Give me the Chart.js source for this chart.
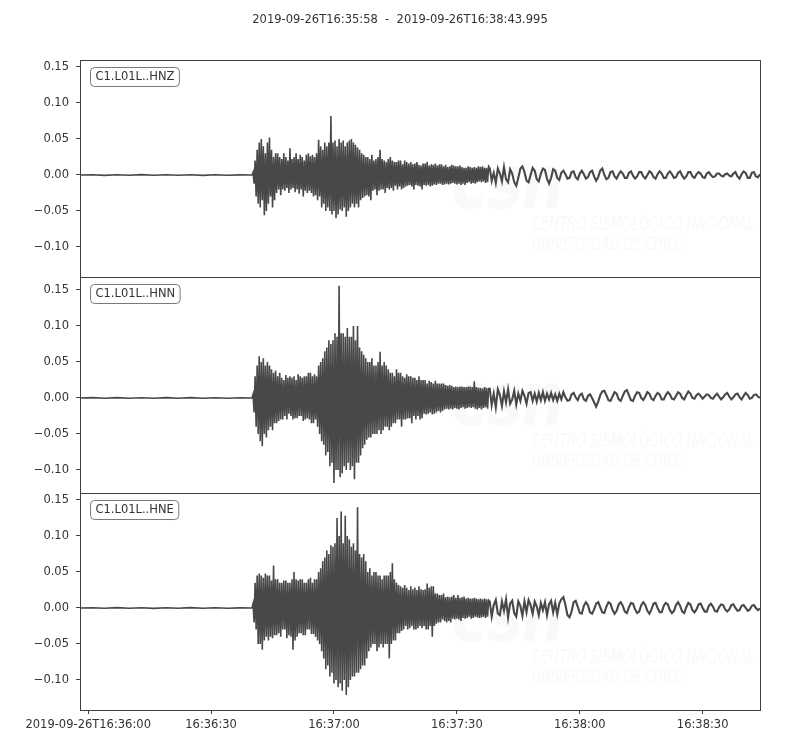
<!DOCTYPE html>
<html>
<head>
<meta charset="utf-8">
<title>Sismograma C1.L01L</title>
<script src="https://cdn.jsdelivr.net/npm/chart.js@4/dist/chart.umd.min.js"></script>
<style>
  body { margin: 0; background: #fff; }
  #wrap { position: relative; width: 800px; height: 750px; }
  #wrap canvas { position: absolute; left: 0; top: 0; }
</style>
</head>
<body>
<div id="wrap">
  <canvas id="c0" width="800" height="750"></canvas>
  <canvas id="c1" width="800" height="750"></canvas>
  <canvas id="c2" width="800" height="750"></canvas>
</div>
<script>
// === Dados ===
const titulo = "2019-09-26T16:35:58  -  2019-09-26T16:38:43.995";
const estacoes = ["C1.L01L..HNZ", "C1.L01L..HNN", "C1.L01L..HNE"];

// eixo x em segundos desde 16:35:58
const xTickSecs = [2, 32, 62, 92, 122, 152];
const xTickLabels = ["2019-09-26T16:36:00", "16:36:30", "16:37:00", "16:37:30", "16:38:00", "16:38:30"];
const yTicks = [-0.10, -0.05, 0.00, 0.05, 0.10, 0.15];

// passos (s) de cada trecho: pré-evento (0-42 s), fase forte (42-100 s), coda (100-166 s)
const passoPre = 3;
const passoForte = 0.25;
const passoCoda = 0.5;
const inicioCoda = 100;

// HNZ
const hnzPre = [0, 0.0004, -0.0005, 0.0003, -0.0004, 0.0005, -0.0003, 0.0004, -0.0004, 0.0003, -0.0005, 0.0004, -0.0003, 0.0002];
const hnzForte = [
  0.000, 0.004, -0.012, 0.020, -0.030, 0.035, -0.040, 0.045,
  -0.045, 0.050, -0.035, 0.040, -0.056, 0.030, -0.050, 0.045,
  -0.040, 0.052, -0.030, 0.035, -0.045, 0.025, -0.035, 0.030,
  -0.025, 0.030, -0.020, 0.025, -0.028, 0.022, -0.020, 0.030,
  -0.022, 0.025, -0.018, 0.020, -0.025, 0.037, -0.020, 0.022,
  -0.018, 0.025, -0.024, 0.030, -0.020, 0.022, -0.026, 0.028,
  -0.020, 0.025, -0.030, 0.020, -0.022, 0.028, -0.025, 0.030,
  -0.022, 0.026, -0.025, 0.028, -0.030, 0.025, -0.028, 0.030,
  -0.035, 0.049, -0.030, 0.040, -0.045, 0.035, -0.040, 0.045,
  -0.050, 0.040, -0.045, 0.045, -0.050, 0.082, -0.055, 0.045,
  -0.050, 0.048, -0.060, 0.040, -0.055, 0.050, -0.048, 0.045,
  -0.050, 0.048, -0.045, 0.040, -0.058, 0.045, -0.050, 0.048,
  -0.045, 0.050, -0.040, 0.045, -0.045, 0.042, -0.040, 0.038,
  -0.045, 0.035, -0.035, 0.030, -0.032, 0.028, -0.030, 0.025,
  -0.028, 0.025, -0.030, 0.022, -0.035, 0.028, -0.022, 0.020,
  -0.020, 0.022, -0.028, 0.025, -0.022, 0.035, -0.020, 0.022,
  -0.020, 0.020, -0.025, 0.018, -0.018, 0.022, -0.020, 0.025,
  -0.018, 0.020, -0.022, 0.018, -0.015, 0.018, -0.020, 0.020,
  -0.016, 0.020, -0.020, 0.015, -0.018, 0.020, -0.016, 0.018,
  -0.015, 0.016, -0.014, 0.018, -0.016, 0.015, -0.020, 0.016,
  -0.014, 0.018, -0.015, 0.014, -0.016, 0.013, -0.020, 0.016,
  -0.014, 0.016, -0.015, 0.018, -0.014, 0.013, -0.016, 0.015,
  -0.015, 0.014, -0.013, 0.016, -0.014, 0.013, -0.012, 0.015,
  -0.012, 0.015, -0.014, 0.012, -0.013, 0.014, -0.012, 0.011,
  -0.013, 0.012, -0.012, 0.014, -0.011, 0.013, -0.012, 0.012,
  -0.013, 0.012, -0.012, 0.013, -0.014, 0.011, -0.012, 0.010,
  -0.014, 0.010, -0.011, 0.012, -0.010, 0.011, -0.012, 0.010,
  -0.011, 0.011, -0.012, 0.010, -0.010, 0.012, -0.009, 0.011,
  -0.010, 0.012, -0.009, 0.010, -0.011, 0.010, -0.010, 0.012
];
const hnzCoda = [
  0.010, -0.008, 0.003, -0.011, 0.009, 0.002, -0.009, 0.011, -0.006, -0.010,
  0.008, 0.002, -0.010, -0.015, -0.004, 0.009, 0.012, 0.004, -0.008, -0.010,
  0.000, 0.010, 0.006, -0.006, -0.009, 0.002, 0.009, 0.007, -0.005, -0.012,
  -0.004, 0.008, 0.006, -0.004, -0.007, 0.003, 0.006, 0.001, -0.005, -0.004,
  0.004, 0.005, -0.003, -0.006, 0.002, 0.006, 0.001, -0.005, -0.003, 0.004,
  0.006, -0.002, -0.008, -0.003, 0.006, 0.009, 0.000, -0.006, -0.004, 0.004,
  0.005, -0.002, -0.005, 0.001, 0.005, 0.002, -0.004, -0.004, 0.003, 0.005,
  -0.001, -0.005, -0.002, 0.004, 0.004, -0.002, -0.005, 0.000, 0.005, 0.003,
  -0.003, -0.005, 0.001, 0.005, 0.002, -0.004, -0.004, 0.002, 0.005, 0.001,
  -0.004, -0.003, 0.003, 0.005, -0.001, -0.005, -0.002, 0.004, 0.004, -0.002,
  -0.004, 0.001, 0.004, 0.002, -0.003, -0.004, 0.002, 0.004, 0.000, -0.003,
  -0.002, 0.002, 0.002, -0.001, -0.002, 0.001, 0.002, -0.001, -0.002, 0.002,
  0.004, -0.002, -0.005, 0.001, 0.005, 0.003, -0.004, -0.004, 0.003, 0.004,
  -0.002, -0.003, 0.001
];

// HNN
const hnnPre = [0, 0.0005, -0.0004, 0.0004, -0.0005, 0.0003, -0.0004, 0.0005, -0.0003, 0.0004, -0.0004, 0.0003, -0.0005, 0.0002];
const hnnForte = [
  0.000, 0.005, -0.020, 0.030, -0.040, 0.045, -0.050, 0.058,
  -0.060, 0.050, -0.067, 0.055, -0.050, 0.045, -0.055, 0.050,
  -0.045, 0.045, -0.040, 0.040, -0.045, 0.035, -0.035, 0.038,
  -0.035, 0.030, -0.032, 0.035, -0.030, 0.028, -0.030, 0.025,
  -0.025, 0.032, -0.030, 0.028, -0.022, 0.030, -0.025, 0.028,
  -0.030, 0.030, -0.028, 0.025, -0.028, 0.033, -0.025, 0.030,
  -0.025, 0.028, -0.032, 0.030, -0.030, 0.030, -0.028, 0.035,
  -0.030, 0.035, -0.035, 0.030, -0.035, 0.033, -0.030, 0.030,
  -0.040, 0.045, -0.050, 0.050, -0.060, 0.055, -0.065, 0.065,
  -0.080, 0.070, -0.075, 0.080, -0.095, 0.075, -0.090, 0.080,
  -0.118, 0.090, -0.100, 0.085, -0.100, 0.156, -0.110, 0.090,
  -0.105, 0.090, -0.095, 0.085, -0.100, 0.097, -0.090, 0.085,
  -0.100, 0.085, -0.095, 0.100, -0.113, 0.080, -0.090, 0.100,
  -0.090, 0.070, -0.080, 0.065, -0.070, 0.060, -0.065, 0.055,
  -0.058, 0.050, -0.055, 0.050, -0.055, 0.055, -0.050, 0.045,
  -0.050, 0.045, -0.050, 0.050, -0.045, 0.064, -0.050, 0.045,
  -0.045, 0.050, -0.040, 0.045, -0.040, 0.040, -0.045, 0.035,
  -0.040, 0.035, -0.035, 0.030, -0.035, 0.040, -0.030, 0.035,
  -0.030, 0.035, -0.040, 0.030, -0.030, 0.028, -0.030, 0.033,
  -0.028, 0.030, -0.028, 0.030, -0.035, 0.028, -0.025, 0.028,
  -0.030, 0.025, -0.025, 0.030, -0.030, 0.025, -0.028, 0.025,
  -0.022, 0.025, -0.023, 0.020, -0.022, 0.024, -0.020, 0.022,
  -0.023, 0.020, -0.022, 0.024, -0.020, 0.020, -0.018, 0.020,
  -0.020, 0.020, -0.018, 0.020, -0.016, 0.018, -0.015, 0.017,
  -0.016, 0.018, -0.015, 0.017, -0.016, 0.015, -0.014, 0.016,
  -0.015, 0.015, -0.016, 0.016, -0.014, 0.016, -0.013, 0.015,
  -0.015, 0.015, -0.014, 0.016, -0.013, 0.016, -0.014, 0.015,
  -0.013, 0.023, -0.015, 0.015, -0.016, 0.014, -0.014, 0.014,
  -0.016, 0.013, -0.014, 0.015, -0.013, 0.014, -0.015, 0.013
];
const hnnCoda = [
  0.014, -0.010, 0.006, -0.013, 0.012, 0.004, -0.011, 0.009, -0.006, 0.012,
  -0.008, -0.002, 0.010, -0.009, 0.006, -0.004, 0.010, 0.003, -0.008, 0.007,
  0.008, -0.004, 0.006, -0.005, 0.007, -0.003, 0.008, -0.004, 0.006, -0.002,
  0.007, -0.003, 0.005, -0.004, 0.006, -0.002, 0.008, 0.001, -0.004, -0.003,
  0.005, 0.007, 0.001, -0.003, 0.004, 0.006, -0.002, -0.004, 0.003, 0.005,
  0.000, -0.006, -0.012, -0.005, 0.004, 0.009, 0.010, 0.004, -0.003, -0.004,
  0.002, 0.008, 0.006, -0.002, -0.004, 0.003, 0.009, 0.011, 0.004, -0.003,
  -0.004, 0.003, 0.008, 0.007, 0.000, -0.003, 0.002, 0.008, 0.006, -0.001,
  -0.003, 0.003, 0.007, 0.005, -0.002, -0.002, 0.004, 0.008, 0.005, -0.001,
  -0.002, 0.003, 0.008, 0.006, 0.000, -0.002, 0.004, 0.009, 0.006, 0.000,
  -0.001, 0.004, 0.006, 0.003, -0.001, 0.002, 0.005, 0.004, 0.000, -0.001,
  0.003, 0.006, 0.002, -0.002, 0.001, 0.005, 0.007, 0.002, -0.002, 0.001,
  0.005, 0.006, 0.001, -0.002, 0.003, 0.007, 0.004, -0.001, 0.000, 0.004,
  0.005, 0.002, 0.000
];

// HNE
const hnePre = [0, 0.0003, -0.0004, 0.0005, -0.0003, 0.0004, -0.0005, 0.0003, -0.0004, 0.0005, -0.0003, 0.0004, -0.0004, 0.0002];
const hneForte = [
  0.000, 0.006, -0.020, 0.035, -0.030, 0.045, -0.050, 0.048,
  -0.050, 0.045, -0.058, 0.042, -0.045, 0.048, -0.040, 0.045,
  -0.045, 0.045, -0.040, 0.038, -0.042, 0.059, -0.038, 0.040,
  -0.038, 0.040, -0.035, 0.035, -0.040, 0.035, -0.030, 0.038,
  -0.030, 0.038, -0.042, 0.035, -0.038, 0.035, -0.040, 0.040,
  -0.058, 0.050, -0.045, 0.040, -0.040, 0.038, -0.035, 0.040,
  -0.035, 0.040, -0.038, 0.035, -0.038, 0.035, -0.030, 0.040,
  -0.030, 0.042, -0.036, 0.035, -0.036, 0.040, -0.040, 0.040,
  -0.045, 0.050, -0.050, 0.055, -0.060, 0.065, -0.070, 0.070,
  -0.085, 0.080, -0.080, 0.075, -0.095, 0.087, -0.090, 0.085,
  -0.105, 0.090, -0.100, 0.125, -0.110, 0.100, -0.105, 0.134,
  -0.115, 0.090, -0.100, 0.128, -0.121, 0.100, -0.110, 0.095,
  -0.100, 0.085, -0.095, 0.090, -0.095, 0.080, -0.090, 0.140,
  -0.090, 0.075, -0.085, 0.070, -0.080, 0.075, -0.080, 0.065,
  -0.070, 0.050, -0.060, 0.055, -0.055, 0.045, -0.050, 0.050,
  -0.050, 0.050, -0.060, 0.045, -0.055, 0.045, -0.050, 0.040,
  -0.055, 0.045, -0.050, 0.045, -0.050, 0.045, -0.070, 0.050,
  -0.050, 0.062, -0.045, 0.040, -0.045, 0.035, -0.035, 0.032,
  -0.035, 0.030, -0.032, 0.028, -0.030, 0.032, -0.025, 0.028,
  -0.030, 0.025, -0.028, 0.030, -0.025, 0.026, -0.030, 0.028,
  -0.030, 0.025, -0.028, 0.030, -0.025, 0.026, -0.028, 0.025,
  -0.025, 0.026, -0.030, 0.034, -0.030, 0.028, -0.025, 0.030,
  -0.040, 0.030, -0.025, 0.020, -0.022, 0.020, -0.020, 0.018,
  -0.020, 0.018, -0.016, 0.020, -0.018, 0.015, -0.020, 0.016,
  -0.018, 0.015, -0.020, 0.016, -0.015, 0.018, -0.016, 0.014,
  -0.015, 0.018, -0.016, 0.014, -0.018, 0.015, -0.014, 0.016,
  -0.015, 0.013, -0.014, 0.014, -0.012, 0.013, -0.015, 0.013,
  -0.014, 0.014, -0.012, 0.013, -0.013, 0.012, -0.014, 0.013,
  -0.013, 0.012, -0.012, 0.013, -0.014, 0.012, -0.012, 0.011
];
const hneCoda = [
  0.010, -0.012, 0.004, 0.011, -0.008, -0.010, 0.009, -0.004, 0.012, -0.013,
  0.006, 0.010, -0.007, -0.012, 0.009, 0.003, -0.011, 0.009, -0.006, 0.011,
  0.004, -0.008, 0.009, 0.002, -0.010, 0.007, -0.003, 0.008, -0.010, 0.005,
  0.010, -0.006, 0.007, -0.009, 0.006, 0.012, 0.015, 0.004, -0.010, -0.013,
  -0.005, 0.008, 0.010, 0.002, -0.007, -0.008, 0.003, 0.008, 0.004, -0.006,
  -0.008, -0.002, 0.006, 0.008, 0.001, -0.006, -0.007, 0.002, 0.008, 0.006,
  -0.003, -0.008, -0.004, 0.005, 0.008, 0.003, -0.005, -0.007, 0.001, 0.007,
  0.006, -0.002, -0.007, -0.005, 0.004, 0.008, 0.004, -0.004, -0.008, -0.002,
  0.006, 0.007, 0.000, -0.006, -0.006, 0.003, 0.007, 0.005, -0.003, -0.007,
  -0.004, 0.004, 0.008, 0.003, -0.005, -0.007, 0.001, 0.007, 0.005, -0.003,
  -0.006, -0.002, 0.005, 0.006, 0.000, -0.005, -0.005, 0.003, 0.006, 0.002,
  -0.004, -0.005, 0.001, 0.005, 0.004, -0.002, -0.005, -0.002, 0.004, 0.005,
  0.000, -0.004, -0.003, 0.003, 0.004, 0.000, -0.004, -0.002, 0.003, 0.004,
  0.000, -0.003, -0.001
];

// === Layout dos painéis (pixels) ===
const paineis = [
  { top: 60,  bottom: 277, ymin: -0.1417, ymax: 0.1597 },
  { top: 277, bottom: 493, ymin: -0.1320, ymax: 0.1680 },
  { top: 493, bottom: 710, ymin: -0.1417, ymax: 0.1597 }
];
const X_MAX = 165.995;
const corLinha = "#484848";
const corEixo = "#404040";
const fonte = "DejaVu Sans";

// Junta os três trechos numa série {x, y}
function montaTraco(pre, forte, coda) {
    const pts = [];
    let t = 0;
    pre.forEach((v) => { pts.push({ x: t, y: v }); t += passoPre; });
    forte.forEach((v) => { pts.push({ x: t, y: v }); t += passoForte; });
    coda.forEach((v) => { pts.push({ x: t, y: v }); t += passoCoda; });
    return pts;
}

const tracos = [
    montaTraco(hnzPre, hnzForte, hnzCoda),
    montaTraco(hnnPre, hnnForte, hnnCoda),
    montaTraco(hnePre, hneForte, hneCoda)
];

function fmtY(v) {
    const s = Math.abs(v) < 1e-9 ? "0.00" : v.toFixed(2);
    return s.replace("-", "\u2212");
}

// Moldura, marca d'água, rótulo da estação e título
const molduraPlugin = {
    id: "moldura",
    beforeDatasetsDraw(chart) {
        const ca = chart.chartArea;
        const ctx = chart.ctx;
        ctx.save();
        ctx.fillStyle = "#f9f9f9";
        ctx.textBaseline = "alphabetic";
        ctx.textAlign = "left";
        ctx.font = `italic bold 74px ${fonte}`;
        ctx.fillText("csn", 452, ca.top + 148, 112);
        ctx.font = `italic 20px ${fonte}`;
        ctx.fillText("CENTRO SISMOLÓGICO NACIONAL", 532, ca.top + 170, 222);
        ctx.fillText("UNIVERSIDAD DE CHILE", 532, ca.top + 190, 150);
        ctx.restore();
    },
    afterDraw(chart, args, opts) {
        const ca = chart.chartArea;
        const ctx = chart.ctx;
        ctx.save();
        ctx.strokeStyle = corEixo;
        ctx.lineWidth = 1;
        ctx.strokeRect(ca.left + 0.5, ca.top + 0.5, ca.right - ca.left, ca.bottom - ca.top);

        // caixa com o nome da estação
        ctx.font = `11.5px ${fonte}`;
        const w = ctx.measureText(opts.rotulo).width;
        const bx = ca.left + 10.5, by = ca.top + 7.5, bw = w + 10, bh = 19;
        ctx.beginPath();
        ctx.roundRect(bx, by, bw, bh, 4);
        ctx.fillStyle = "#fff";
        ctx.fill();
        ctx.strokeStyle = "#7a7a7a";
        ctx.stroke();
        ctx.fillStyle = "#333";
        ctx.textBaseline = "middle";
        ctx.textAlign = "left";
        ctx.fillText(opts.rotulo, bx + 5, by + bh / 2 + 0.5);

        if (opts.titulo) {
            ctx.textAlign = "center";
            ctx.fillText(opts.titulo, 400, 20);
        }
        ctx.restore();
    }
};

paineis.forEach((p, i) => {
    const ultimo = i === paineis.length - 1;
    new Chart(document.getElementById("c" + i), {
        type: "line",
        data: {
            datasets: [{
                data: tracos[i],
                borderColor: corLinha,
                borderWidth: 1.6,
                pointRadius: 0,
                tension: 0,
                fill: false,
                // coda mais espessa, como o traço ruidoso do original
                segment: {
                    borderWidth: (c) => (c.p0.parsed.x >= inicioCoda ? 2.1 : 1.6)
                }
            }]
        },
        options: {
            responsive: false,
            animation: false,
            devicePixelRatio: 1,
            events: [],
            layout: {
                padding: { left: 0, right: 40, top: p.top, bottom: ultimo ? 0 : 750 - p.bottom }
            },
            plugins: {
                legend: { display: false },
                tooltip: { enabled: false },
                moldura: { rotulo: estacoes[i], titulo: i === 0 ? titulo : null }
            },
            scales: {
                x: {
                    type: "linear",
                    min: 0,
                    max: X_MAX,
                    display: ultimo,
                    afterBuildTicks: (s) => { s.ticks = xTickSecs.map((v) => ({ value: v })); },
                    afterFit: (s) => { s.height = ultimo ? 40 : 0; },
                    border: { display: false },
                    grid: { drawOnChartArea: false, drawTicks: true, tickLength: 4, color: corEixo },
                    ticks: {
                        maxRotation: 0,
                        autoSkip: false,
                        padding: 4,
                        color: "#333",
                        font: { family: fonte, size: 11.5 },
                        callback: (v) => xTickLabels[xTickSecs.indexOf(v)]
                    }
                },
                y: {
                    min: p.ymin,
                    max: p.ymax,
                    afterBuildTicks: (s) => { s.ticks = yTicks.map((v) => ({ value: v })); },
                    afterFit: (s) => { s.width = 80; },
                    border: { display: false },
                    grid: { drawOnChartArea: false, drawTicks: true, tickLength: 4, color: corEixo },
                    ticks: {
                        padding: 7,
                        color: "#333",
                        font: { family: fonte, size: 11.5 },
                        callback: (v) => fmtY(v)
                    }
                }
            }
        },
        plugins: [molduraPlugin]
    });
});
</script>
</body>
</html>
